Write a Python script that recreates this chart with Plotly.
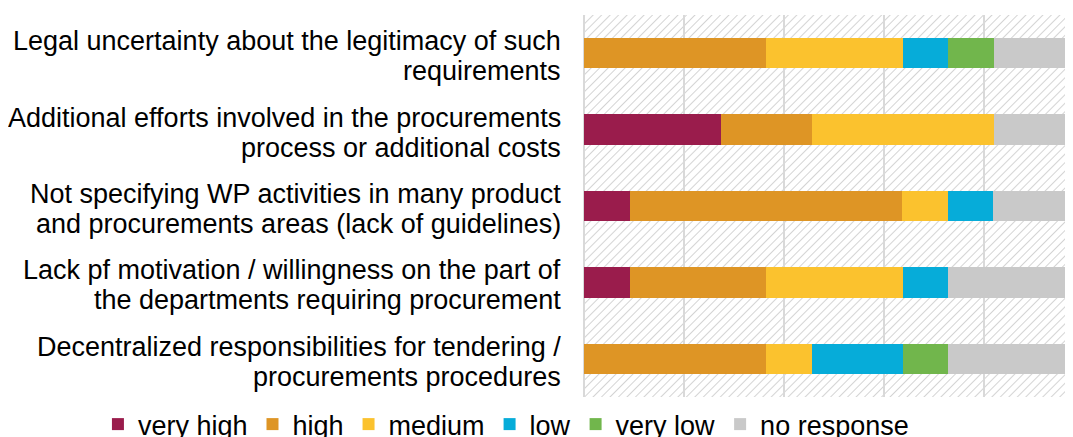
import base64

import plotly.graph_objects as go

categories = [
    "Legal uncertainty about the legitimacy of such<br>requirements",
    "Additional efforts involved in the procurements<br>process or additional costs",
    "Not specifying WP activities in many product<br>and procurements areas (lack of guidelines)",
    "Lack pf motivation / willingness on the part of<br>the departments requiring procurement",
    "Decentralized responsibilities for tendering /<br>procurements procedures",
]

# share of answers in percent
very_high = [0.0, 27.3, 9.1, 9.1, 0.0]
high = [36.4, 18.2, 54.5, 27.3, 36.4]
medium = [27.3, 36.4, 9.1, 27.3, 9.1]
low = [9.1, 0.0, 9.1, 9.1, 18.2]
very_low = [9.1, 0.0, 0.0, 0.0, 9.1]
no_response = [18.2, 18.2, 18.2, 27.3, 27.3]

series = [
    ("very high", very_high, "#9a1c4c"),
    ("high", high, "#de9525"),
    ("medium", medium, "#fbc22e"),
    ("low", low, "#06acd9"),
    ("very low", very_low, "#71b64c"),
    ("no response", no_response, "#c9c9c9"),
]

W, H = 1073, 437
margin = dict(l=576, r=0, t=7, b=48, autoexpand=False)
plot_w = W - margin["l"] - margin["r"]
plot_h = H - margin["t"] - margin["b"]
FONT = "Liberation Sans, Arial, sans-serif"

# diagonal hatching behind the plot area
hatch_svg = f"""<svg xmlns="http://www.w3.org/2000/svg" width="{plot_w}" height="{plot_h}">
<defs><pattern id="h" patternUnits="userSpaceOnUse" width="6" height="6" patternTransform="rotate(45)">
<rect width="6" height="6" fill="white"/>
<line x1="0" y1="0" x2="0" y2="6" stroke="#d4d4d4" stroke-width="2"/>
</pattern></defs>
<rect width="{plot_w}" height="{plot_h}" fill="url(#h)"/>
</svg>"""
hatch_src = "data:image/svg+xml;base64," + base64.b64encode(hatch_svg.encode()).decode()

fig = go.Figure()
for name, values, color in series:
    fig.add_trace(
        go.Bar(
            x=values,
            y=categories,
            name=name,
            orientation="h",
            marker=dict(color=color, line=dict(width=0)),
        )
    )

fig.add_layout_image(
    dict(
        source=hatch_src,
        xref="paper",
        yref="paper",
        x=0,
        y=1,
        sizex=1,
        sizey=1,
        xanchor="left",
        yanchor="top",
        sizing="stretch",
        layer="below",
    )
)

# category labels, one annotation per line to keep the tight line spacing
for cat in categories:
    lines = cat.split("<br>")
    for i, line in enumerate(lines):
        fig.add_annotation(
            x=0,
            xref="paper",
            y=cat,
            yref="y",
            text=line,
            showarrow=False,
            xanchor="right",
            yanchor="middle",
            xshift=-21,
            yshift=12 - 30 * i,
            font=dict(family=FONT, size=27, color="#000000"),
        )

fig.update_layout(
    width=W,
    height=H,
    margin=margin,
    barmode="stack",
    bargap=0.6,
    paper_bgcolor="white",
    plot_bgcolor="rgba(0,0,0,0)",
    font=dict(family=FONT, size=27, color="#000000"),
    legend=dict(
        orientation="h",
        traceorder="normal",
        x=-0.978,
        xanchor="left",
        y=-0.008,
        yanchor="top",
        font=dict(size=27),
        itemclick=False,
    ),
)
fig.update_xaxes(
    range=[0, plot_w / 5],
    dtick=20,
    showticklabels=False,
    showgrid=True,
    gridcolor="#d9d9d9",
    gridwidth=2,
    zeroline=True,
    zerolinecolor="#d9d9d9",
    zerolinewidth=2,
    automargin=False,
)
fig.update_yaxes(
    autorange="reversed",
    showgrid=False,
    showticklabels=False,
    ticks="",
    automargin=False,
)

fig.write_html("out.html")
